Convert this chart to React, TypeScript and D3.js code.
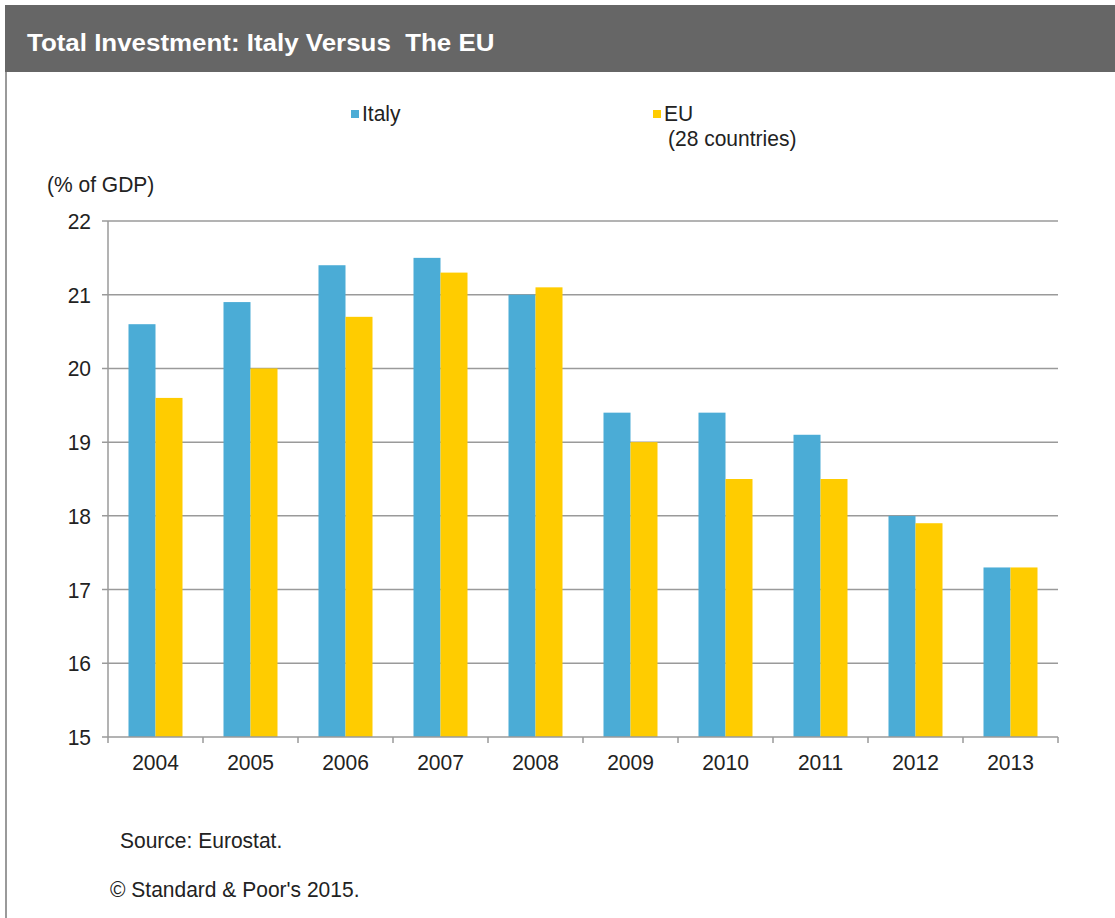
import React from "react";
import * as d3 from "d3";

const years = ["2004", "2005", "2006", "2007", "2008", "2009", "2010", "2011", "2012", "2013"];
const italy = [20.6, 20.9, 21.4, 21.5, 21.0, 19.4, 19.4, 19.1, 18.0, 17.3];
const eu = [19.6, 20.0, 20.7, 21.3, 21.1, 19.0, 18.5, 18.5, 17.9, 17.3];
const yTicks = [15, 16, 17, 18, 19, 20, 21, 22];
const seriesNames = ["Italy", "EU"];
const colors = ["#4BACD6", "#FFCC00"];

const FONT = "'Liberation Sans', Arial, sans-serif";

function T(props: { x: number; y: number; size?: number; sx?: number; anchor?: string; fill?: string; weight?: string; children: React.ReactNode }) {
  const { x, y, size = 22, sx = 0.955, anchor = "start", fill = "#222", weight = "normal", children } = props;
  return (
    <text transform={`translate(${x},${y}) scale(${sx},1)`} fontSize={size} textAnchor={anchor} fill={fill} fontWeight={weight} fontFamily={FONT}>
      {children}
    </text>
  );
}

export default function App() {
  const W = 1115, H = 918;
  const left = 108, right = 1058, top = 221, bottom = 737;
  const x = d3.scaleBand<string>().domain(years).range([left, right]).paddingInner(0).paddingOuter(0);
  const y = d3.scaleLinear().domain([15, 22]).range([bottom, top]);
  const barW = 27;
  const series = [italy, eu];
  const grid = "#9a9a9a";
  return (
    <svg width={W} height={H} style={{ position: "absolute", left: 0, top: 0, background: "#fff" }} fontFamily={FONT}>
      <rect x={5} y={5} width={W - 5} height={67} fill="#666666" />
      <rect x={5} y={72} width={2} height={H - 72} fill={grid} />
      <T x={27} y={51} size={24} sx={1.08} fill="#fff" weight="bold">{"Total Investment: Italy Versus\u00a0 The EU"}</T>

      {/* legend */}
      <rect x={351} y={110} width={8} height={8} fill={colors[0]} />
      <T x={362} y={121}>{seriesNames[0]}</T>
      <rect x={653} y={110} width={8} height={8} fill={colors[1]} />
      <T x={664} y={121}>{seriesNames[1]}</T>
      <T x={668} y={146}>(28 countries)</T>

      <T x={47} y={192}>(% of GDP)</T>

      {yTicks.map((t) => (
        <g key={t}>
          <line x1={left - 6} x2={t === 15 ? left : right} y1={y(t)} y2={y(t)} stroke={grid} strokeWidth={1.5} />
          <T x={91} y={y(t) + 8} anchor="end">{t}</T>
        </g>
      ))}

      {years.map((yr, i) => {
        const cx = (x(yr) as number) + x.bandwidth() / 2;
        return (
          <g key={yr}>
            {series.map((s, k) => (
              <rect key={k} x={cx - barW + k * barW} y={y(s[i])} width={barW} height={bottom - y(s[i])} fill={colors[k]} />
            ))}
            <T x={cx} y={770} anchor="middle">{yr}</T>
          </g>
        );
      })}

      <line x1={left} x2={left} y1={top} y2={bottom} stroke={grid} strokeWidth={1.5} />
      <line x1={left} x2={right} y1={bottom} y2={bottom} stroke={grid} strokeWidth={1.5} />
      {d3.range(years.length + 1).map((i) => {
        const tx = left + i * x.bandwidth();
        return <line key={i} x1={tx} x2={tx} y1={bottom} y2={bottom + 6} stroke={grid} strokeWidth={1.5} />;
      })}

      <T x={120} y={848}>Source: Eurostat.</T>
      <T x={110} y={897}>© Standard &amp; Poor's 2015.</T>
    </svg>
  );
}
